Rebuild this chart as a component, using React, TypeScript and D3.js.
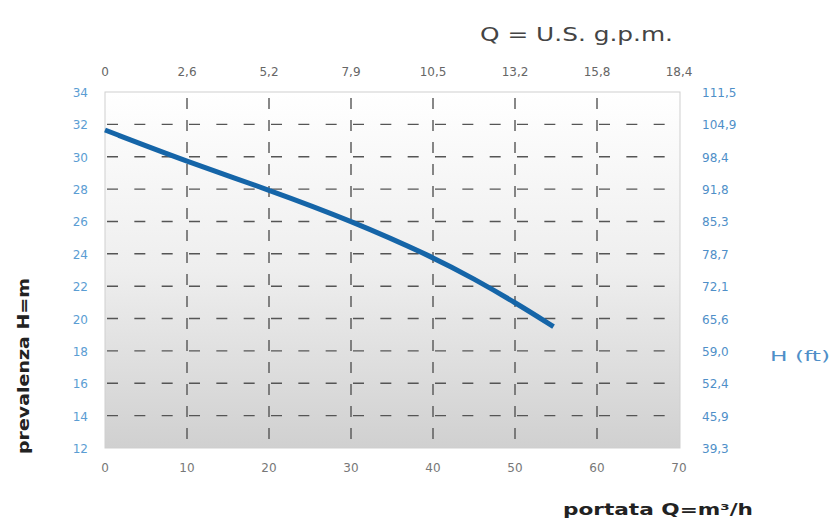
import React from "react";
import * as d3 from "d3";

// Pump performance curve: flow (m³/h) vs head (m)
const flowM3h = [0, 10, 20, 30, 40, 45, 50, 54.7];
const headM = [31.65, 29.7, 27.95, 26.05, 23.8, 22.45, 21.0, 19.5];

const bottomTicks = [0, 10, 20, 30, 40, 50, 60, 70];
const topTickLabels = ["0", "2,6", "5,2", "7,9", "10,5", "13,2", "15,8", "18,4"];
const leftTicks = [34, 32, 30, 28, 26, 24, 22, 20, 18, 16, 14, 12];
const rightTickLabels = ["111,5", "104,9", "98,4", "91,8", "85,3", "78,7", "72,1", "65,6", "59,0", "52,4", "45,9", "39,3"];

const W = 832;
const H = 519;
const FONT = "'DejaVu Sans', Verdana, sans-serif";

export default function App() {
  const x = d3.scaleLinear().domain([0, 70]).range([105, 679]);
  const y = d3.scaleLinear().domain([12, 34]).range([448, 92]);

  const line = d3
    .line<number>()
    .x((_, i) => x(flowM3h[i]))
    .y((d) => y(d))
    .curve(d3.curveBasis);

  const hStep = (x(10) - x(0)) / 3;
  const vGrid = bottomTicks.filter((t) => t > 0 && t < 70);
  const hGrid = leftTicks.filter((t) => t > 12 && t < 34);

  return (
    <svg
      width={W}
      height={H}
      style={{ position: "absolute", left: 0, top: 0, background: "#fff" }}
      fontFamily={FONT}
    >
      <defs>
        <linearGradient id="plotBg" x1="0" y1="0" x2="0" y2="1">
          <stop offset="0" stopColor="#ffffff" />
          <stop offset="0.5" stopColor="#eeeeee" />
          <stop offset="1" stopColor="#d0d0d0" />
        </linearGradient>
      </defs>

      <rect
        x={x(0)}
        y={y(34)}
        width={x(70) - x(0) + 1}
        height={y(12) - y(34)}
        fill="url(#plotBg)"
        stroke="#cfcfcf"
        strokeWidth={1}
      />

      {hGrid.map((t) => (
        <line
          key={"h" + t}
          x1={x(0)}
          x2={x(70)}
          y1={y(t)}
          y2={y(t)}
          stroke="#555"
          strokeWidth={1.4}
          strokeDasharray={`11 ${hStep - 11}`}
          strokeDashoffset={-2}
        />
      ))}
      {vGrid.map((t) => (
        <line
          key={"v" + t}
          x1={x(t)}
          x2={x(t)}
          y1={y(34)}
          y2={y(12)}
          stroke="#555"
          strokeWidth={1.4}
          strokeDasharray="11 11"
          strokeDashoffset={-6}
        />
      ))}

      <path
        d={line(headM) || ""}
        fill="none"
        stroke="#1565a8"
        strokeWidth={5}
        strokeLinecap="butt"
      />

      {bottomTicks.map((t) => (
        <text
          key={"b" + t}
          x={x(t)}
          y={468}
          fontSize={12}
          fill="#777"
          textAnchor="middle"
          dominantBaseline="central"
        >
          {t}
        </text>
      ))}
      {bottomTicks.map((t, i) => (
        <text
          key={"t" + t}
          x={x(t)}
          y={72}
          fontSize={12}
          fill="#666"
          textAnchor="middle"
          dominantBaseline="central"
        >
          {topTickLabels[i]}
        </text>
      ))}
      {leftTicks.map((t) => (
        <text
          key={"l" + t}
          x={88}
          y={y(t) + 1}
          fontSize={12}
          fill="#5b9dd3"
          textAnchor="end"
          dominantBaseline="central"
        >
          {t}
        </text>
      ))}
      {leftTicks.map((t, i) => (
        <text
          key={"r" + t}
          x={702}
          y={y(t) + 1}
          fontSize={12}
          fill="#4f8fc8"
          textAnchor="start"
          dominantBaseline="central"
        >
          {rightTickLabels[i]}
        </text>
      ))}

      <text
        x={480}
        y={34}
        fontSize={19}
        fill="#444"
        dominantBaseline="central"
        textLength={193}
        lengthAdjust="spacingAndGlyphs"
      >
        Q = U.S. g.p.m.
      </text>

      <text
        x={770}
        y={356}
        fontSize={14}
        fill="#4f8fc8"
        dominantBaseline="central"
        textLength={60}
        lengthAdjust="spacingAndGlyphs"
      >
        H (ft)
      </text>

      <text
        transform={`translate(24, 366) rotate(-90)`}
        fontSize={15}
        fontWeight="bold"
        fill="#222"
        textAnchor="middle"
        dominantBaseline="central"
        textLength={176}
        lengthAdjust="spacingAndGlyphs"
      >
        prevalenza H=m
      </text>

      <text
        x={563}
        y={509}
        fontSize={16}
        fontWeight="bold"
        fill="#222"
        dominantBaseline="central"
        textLength={190}
        lengthAdjust="spacingAndGlyphs"
      >
        portata Q=m³/h
      </text>
    </svg>
  );
}
